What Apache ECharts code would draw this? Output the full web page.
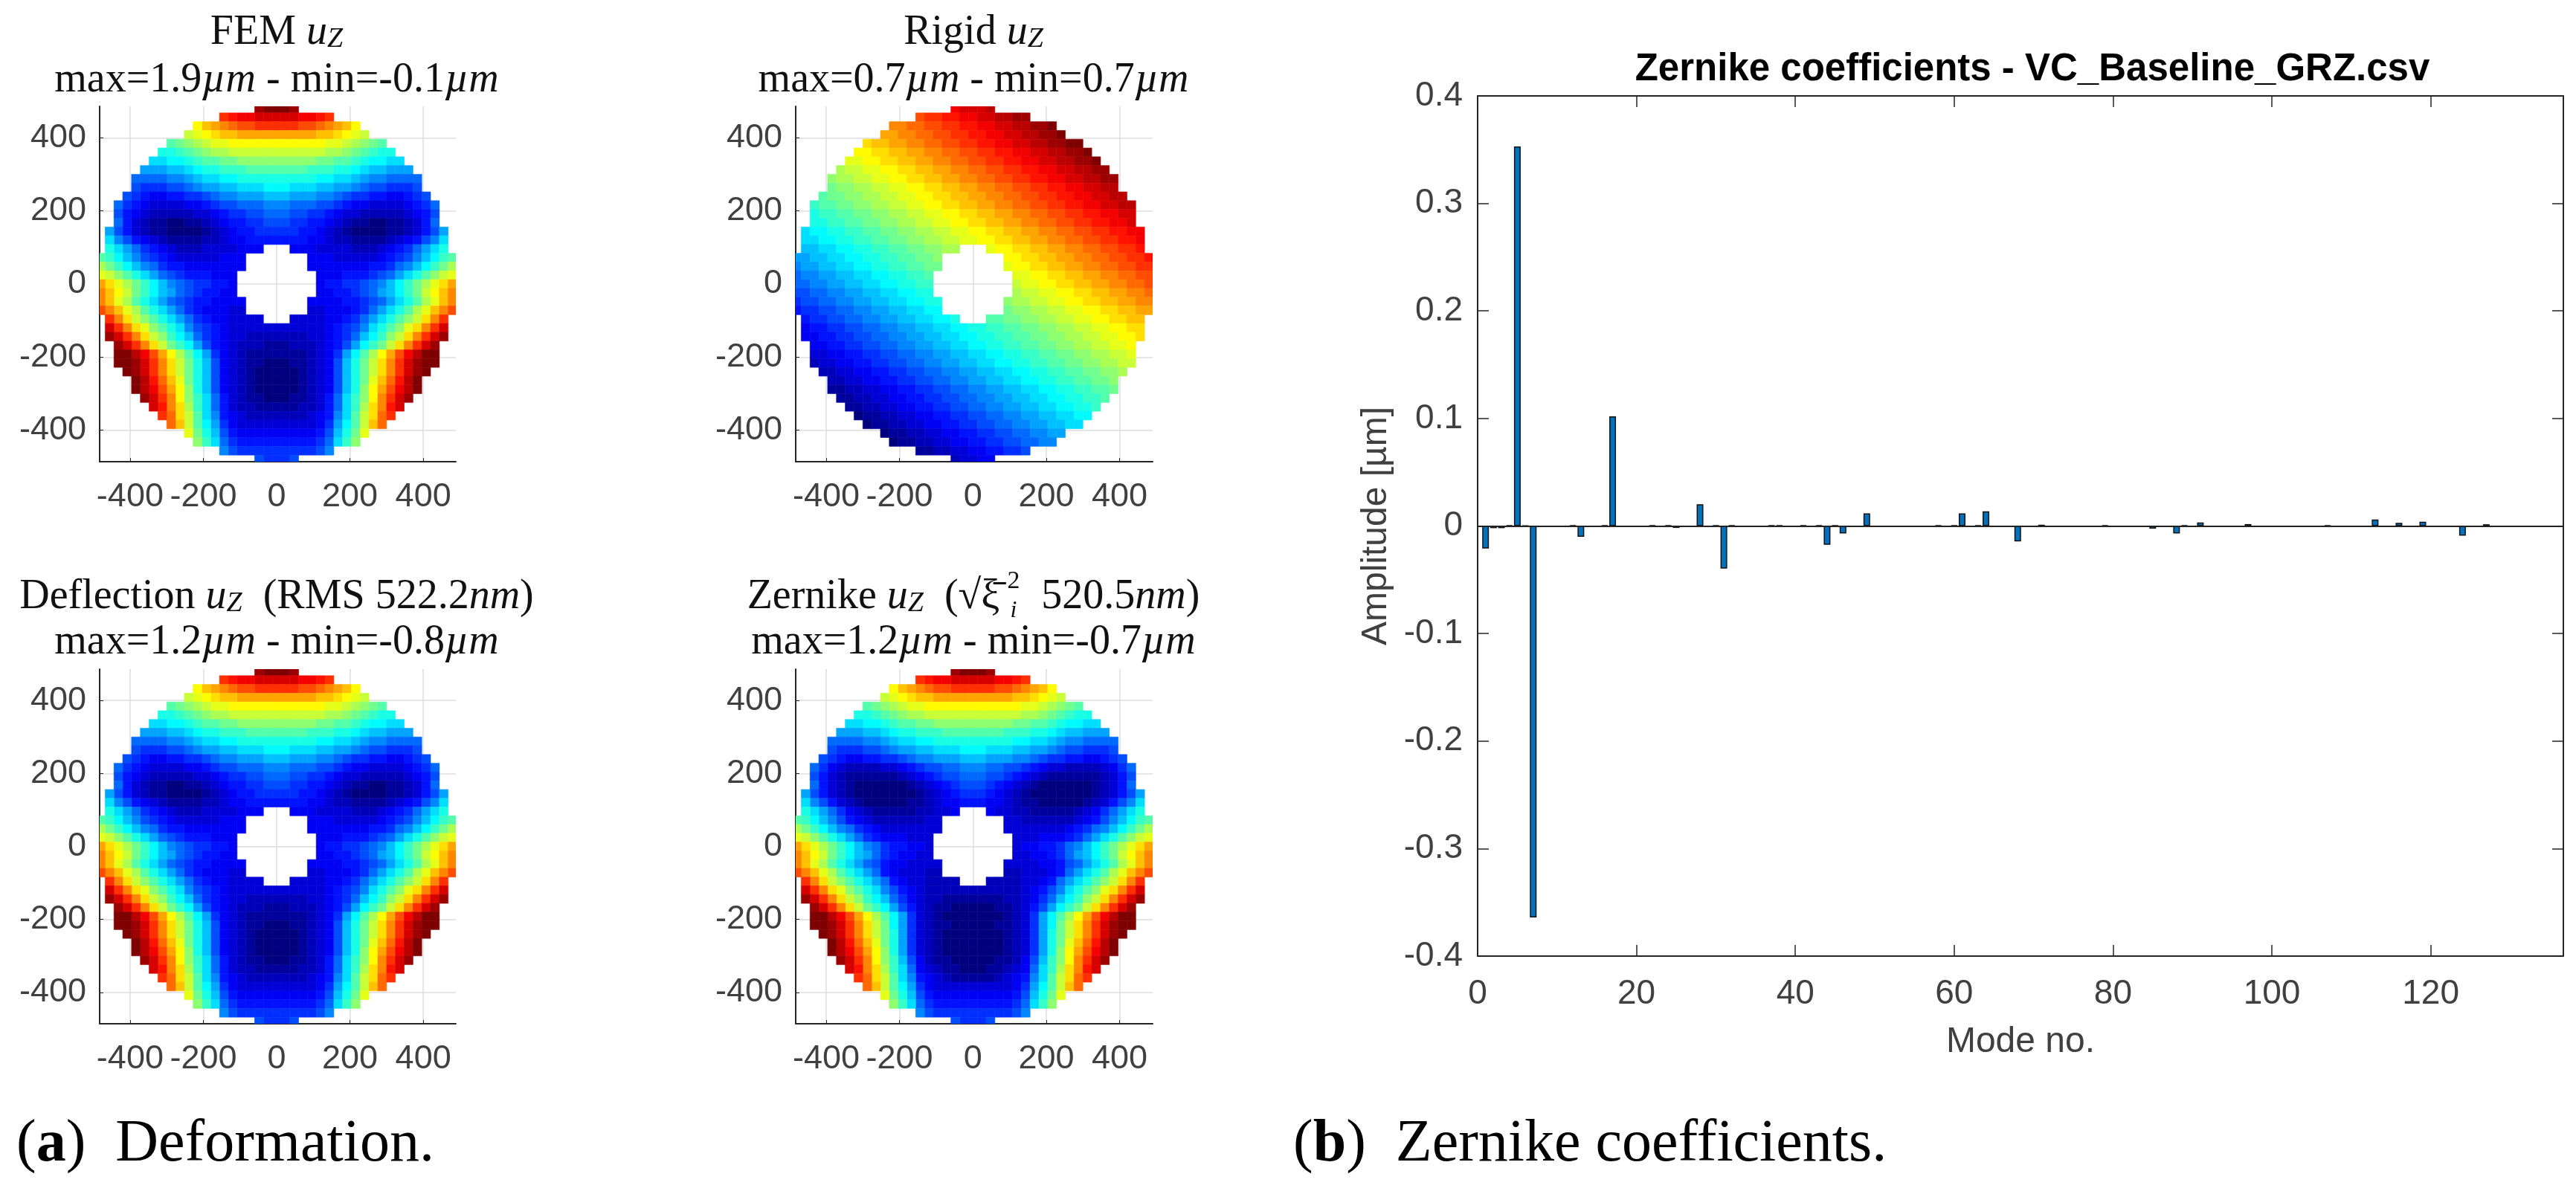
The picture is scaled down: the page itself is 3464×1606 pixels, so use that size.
<!DOCTYPE html>
<html><head><meta charset="utf-8"><style>html,body{margin:0;padding:0;background:#fff}#c{width:3464px;height:1606px}</style>
<script src="https://cdn.jsdelivr.net/npm/echarts@6/dist/echarts.min.js"></script></head>
<body><div id="c"></div><script>
// Colour levels 0..35 (base-36 characters) on a 24-unit raster, rows from y=480 down to y=-480.
// '.' means no data (central hole). The half rows run from x=0 outward; the panels are left-right symmetric.
const femRows = ["zzy","wwwvvut","tttssrqpom","pppppoonmlk","mmmmmmllkjihg","kkkkkkjjihgfee","iiiiihhggfeddcc","ggggfffeedcbbaaa","eeeeeddccba998888","ddcccbbaa98776667","bbaaa9987665544567","9988877654433334568","8877665433222223457","7766554321100112358","6665543210000112357a","5555443221111234579c","..444333322234568ace","....4443333345679bdfg","....444444455689bdfhj",".....444555678acegikl",".....45566789bdfhjlnp",".....4455678abdfhkmoq","....444455678acegjloq","....33444568acegjloqs","..333344568acegiknqt","33333345679cegilnqtw","2222334568bdfiknqtwy","112223457adfhknqtwy","11112346adgjmpsvxzz","00112347behknqtwyzz","00012347behknqtwyz","00012347behloruxz","00012347beimpsvxz","00112358cfimqtwy","11122358cfjnquw","22223459cgknrt","3333346adgkor","4444457behl","5555568cfi","6666679","667"];
const deflectionRows = femRows;
const zernikeRows = [...femRows.slice(0,11),"9988776543322223468","8877654321111112357","7765432100000012358","6654321000000012357a","5544321100000123579c","..433221111123468ace","....3322222234579bdfg","....333333345689bdfhj",".....333444568acegikl",".....34455689bdfhjlnp",".....3344568abdfhkmoq","....333344578acegjloq","....22333458acegjloqs","..222233458acegiknqt","22222234579cegilnqtw","1111223468bdfiknqtwy","000112357adfhknqtwy","00001236adgjmpsvxzz","00011236adhknqtwyzz","00001236aehknqtwyz","00001236aehloruxz","00001236aeimpsvxz","00011247bfimqtwy","00112348cfjnquw","11123459cgknrt",...femRows.slice(36)];
// Rigid: full rows, centred on x=0
const rigidRows = ["vwwwx","sttuuvvwwxxyy","qqrrssttuuvvwwxxyyz","ppqqrrssttuuvvwwxxyyz","nooppqqrrssttuuvvwwxxyyzz","mmnnooppqqrrssttuuvvwwxxyyz","llmmnnooppqqrrssttuuvvwwxxyyz","jkkllmmnnooppqqrrssttuuvvwwxxyy","ijjkkllmmnnooppqqrrssttuuvvwwxxyy","hiijjkkllmmnnooppqqrrssttuuvvwwxx","ghhiijjkkllmmnnooppqqrrssttuuvvwwxx","fgghhiijjkkllmmnnooppqqrrssttuuvvwwxx","effgghhiijjkkllmmnnooppqqrrssttuuvvww","eeffgghhiijjkkllmmnnooppqqrrssttuuvvw","cddeeffgghhiijjkkllmmnnooppqqrrssttuuvv","ccddeeffgghhiijjkkllmmnnooppqqrrssttuuv","bbccddeeffgghhiijj...lmmnnooppqqrrssttu","aabbccddeeffgghhi.......mmnnooppqqrrssttu","9aabbccddeeffgghh.......lmmnnooppqqrrsstt","899aabbccddeeffg.........llmmnnooppqqrrss","8899aabbccddeeff.........kllmmnnooppqqrrs","778899aabbccddee.........jkkllmmnnooppqqr","6778899aabbccddee.......ijjkkllmmnnooppqq","566778899aabbccdd.......hiijjkkllmmnnoopp","566778899aabbccdde...gghhiijjkkllmmnnoo","45566778899aabbccddeeffgghhiijjkkllmmnn","445566778899aabbccddeeffgghhiijjkkllmmn","445566778899aabbccddeeffgghhiijjkkllm","33445566778899aabbccddeeffgghhiijjkkl","233445566778899aabbccddeeffgghhiijjkk","2233445566778899aabbccddeeffgghhiij","2233445566778899aabbccddeeffgghhi","112233445566778899aabbccddeeffggh","112233445566778899aabbccddeeffg","112233445566778899aabbccddeef","0112233445566778899aabbccdd","0112233445566778899aabbcc","0112233445566778899aa","0112233445566778899","1122334455667","23344"];
const discTicks = [-400,-200,0,200,400];
const modes = [1,2,3,4,5,6,7,9,12,13,16,17,19,22,24,25,28,29,30,31,32,36,37,38,41,43,44,45,46,49,51,54,58,60,61,63,64,66,68,69,71,78,79,85,88,89,91,92,95,97,104,107,113,116,119,121,124,127];
const amplitudes = [-0.021,-0.002,-0.002,0.0006,0.353,0.0005,-0.364,-0.0006,0.0006,-0.0101,0.0006,0.102,-0.0006,0.0006,0.0006,-0.0018,0.0203,-0.0006,0.0006,-0.0396,0.0006,-0.0006,0.0006,0.0006,0.0006,0.0006,-0.0175,0.0006,-0.0069,0.0117,-0.0006,-0.0006,0.0006,0.0006,0.0117,0.0006,0.0136,-0.0006,-0.0143,-0.0006,0.0012,-0.0006,0.0006,-0.0025,-0.0069,0.0006,0.0032,-0.0006,-0.0006,0.0018,-0.0006,0.0006,0.006,0.003,0.004,-0.0006,-0.009,0.0016];
const modeTicks = [0,20,40,60,80,100,120];
const ampTicks = [-0.4,-0.3,-0.2,-0.1,0,0.1,0.2,0.3,0.4];

const jet = ['#00007f','#0000ff','#007fff','#00ffff','#7fff7f','#ffff00','#ff7f00','#ff0000','#7f0000'];
const CELL = 24;
function cells(rows, half){
  const out=[];
  rows.forEach((r,i)=>{
    const y=480-i*CELL;
    [...r].forEach((ch,j)=>{
      if(ch==='.')return;
      const v=parseInt(ch,36);
      if(half){ out.push([j*CELL,y,v]); if(j>0) out.push([-j*CELL,y,v]); }
      else out.push([(j-(r.length-1)/2)*CELL,y,v]);
    });
  });
  return out;
}
const panels=[
 {left:134,top:143,w:479,h:478,min:-483,max:489,data:cells(femRows,true)},
 {left:1070,top:143,w:480,h:478,min:-483,max:490,data:cells(rigidRows,false)},
 {left:134,top:900,w:479,h:477,min:-483,max:489,data:cells(deflectionRows,true)},
 {left:1070,top:900,w:480,h:477,min:-483,max:490,data:cells(zernikeRows,true)}
];
const TXT='#404040', AX='#262626', SANS='"Liberation Sans",Arial,sans-serif', SERIF='"Liberation Serif",serif';
const grids=[],xA=[],yA=[],series=[];
const labelFmt=v=>String(v);
panels.forEach((p,i)=>{
  grids.push({left:p.left,top:p.top,width:p.w,height:p.h});
  const common={type:'value',gridIndex:i,
    axisLine:{show:true,onZero:false,lineStyle:{color:AX,width:2}},
    axisTick:{show:true,inside:true,length:5,customValues:discTicks,lineStyle:{color:AX,width:1}},
    axisLabel:{show:true,customValues:discTicks,formatter:labelFmt,color:TXT,fontSize:45,fontFamily:SANS},
    splitLine:{show:true,lineStyle:{color:'#dcdcdc',width:1.5}}};
  xA.push({...common,min:p.min,max:p.max,position:'bottom',axisLabel:{...common.axisLabel,margin:25}});
  yA.push({...common,min:-486,max:486,position:'left',axisLabel:{...common.axisLabel,margin:18}});
  series.push({type:'custom',xAxisIndex:i,yAxisIndex:i,data:p.data,clip:true,animation:false,progressive:0,
    dimensions:['x','y','level'],encode:{x:0,y:1},
    renderItem:(params,api)=>{
      const a=api.coord([api.value(0)-CELL/2,api.value(1)+CELL/2]);
      const s=api.size([CELL,CELL]);
      const col=api.visual('color');
      return {type:'rect',shape:{x:a[0],y:a[1],width:s[0],height:s[1]},style:{fill:col,stroke:col,lineWidth:0.6}};
    }});
});
// Bar chart
const bi=4;
grids.push({left:1987,top:129,width:1460,height:1157});
const barAxis={axisLine:{show:true,onZero:false,lineStyle:{color:AX,width:2}},splitLine:{show:false}};
xA.push({type:'value',gridIndex:bi,min:0,max:136.7,position:'bottom',...barAxis,
  axisTick:{show:true,inside:true,length:15,customValues:modeTicks,lineStyle:{color:AX,width:1.5}},
  axisLabel:{show:true,customValues:modeTicks,formatter:labelFmt,color:TXT,fontSize:46,fontFamily:SANS,margin:28},
  name:'Mode no.',nameLocation:'middle',nameGap:92,nameTextStyle:{color:TXT,fontSize:48,fontFamily:SANS}});
yA.push({type:'value',gridIndex:bi,min:-0.4,max:0.4,position:'left',...barAxis,
  axisTick:{show:true,inside:true,length:15,customValues:ampTicks,lineStyle:{color:AX,width:1.5}},
  axisLabel:{show:true,customValues:ampTicks,formatter:v=>String(+(+v).toFixed(1)),color:TXT,fontSize:46,fontFamily:SANS,margin:20},
  name:'Amplitude [µm]',nameLocation:'middle',nameGap:112,nameRotate:90,nameTextStyle:{color:TXT,fontSize:48,fontFamily:SANS}});
xA.push({type:'value',gridIndex:bi,min:0,max:136.7,position:'top',...barAxis,
  axisTick:{show:true,inside:true,length:15,customValues:modeTicks,lineStyle:{color:AX,width:1.5}},axisLabel:{show:false}});
yA.push({type:'value',gridIndex:bi,min:-0.4,max:0.4,position:'right',...barAxis,
  axisTick:{show:true,inside:true,length:15,customValues:ampTicks,lineStyle:{color:AX,width:1.5}},axisLabel:{show:false}});
series.push({type:'bar',xAxisIndex:4,yAxisIndex:4,data:modes.map((m,i)=>[m,amplitudes[i]]),barWidth:9,animation:false,
  itemStyle:{color:'#0072bd',borderColor:'#111',borderWidth:1.5},
  markLine:{silent:true,symbol:'none',animation:false,label:{show:false},lineStyle:{color:'#222',width:2,type:'solid'},data:[{yAxis:0}]}});

const rich={it:{font:'italic 56px '+SERIF,color:'#111'},
 sub:{font:'italic 38px '+SERIF,color:'#111',verticalAlign:'bottom',lineHeight:56},
 b:{font:'bold 80px '+SERIF,color:'#000'}};
function t(x,y,text,size,st){return {type:'text',x,y,silent:true,style:{text,rich,font:(st||'')+' '+(size||56)+'px '+SERIF,fill:'#111',align:'center',verticalAlign:'middle'}};}
const head=[
 [372,44,'FEM {it|u}{sub|Z}'],[372,108,'max=1.9{it|µm} - min=-0.1{it|µm}'],
 [1309,44,'Rigid {it|u}{sub|Z}'],[1309,108,'max=0.7{it|µm} - min=0.7{it|µm}'],
 [372,803,'Deflection {it|u}{sub|Z}  (RMS 522.2{it|nm})'],[372,864,'max=1.2{it|µm} - min=-0.8{it|µm}'],
 [1309,803,'Zernike {it|u}{sub|Z}  (√ξ̄    520.5{it|nm})'],[1309,864,'max=1.2{it|µm} - min=-0.7{it|µm}']
];
const graphic=head.map(h=>t(h[0],h[1],h[2]));
graphic.push(t(1363,782,'2',34));
graphic.push(t(1363,822,'i',32,'italic'));
graphic.push({type:'text',x:22,y:1540,silent:true,style:{text:'({b|a})  Deformation.',rich,font:'80px '+SERIF,fill:'#000',align:'left',verticalAlign:'middle'}});
graphic.push({type:'text',x:1739,y:1540,silent:true,style:{text:'({b|b})  Zernike coefficients.',rich,font:'80px '+SERIF,fill:'#000',align:'left',verticalAlign:'middle'}});
graphic.push({type:'text',x:2733,y:94,silent:true,style:{text:'Zernike coefficients - VC_Baseline_GRZ.csv',font:'bold 51px '+SANS,fill:'#000',align:'center',verticalAlign:'middle'}});

const chart=echarts.init(document.getElementById('c'),null,{renderer:'canvas'});
chart.setOption({animation:false,backgroundColor:'#fff',grid:grids,xAxis:xA,yAxis:yA,series,graphic,
  visualMap:{show:false,type:'continuous',seriesIndex:[0,1,2,3],dimension:2,min:0,max:35,inRange:{color:jet}}});
</script></body></html>
